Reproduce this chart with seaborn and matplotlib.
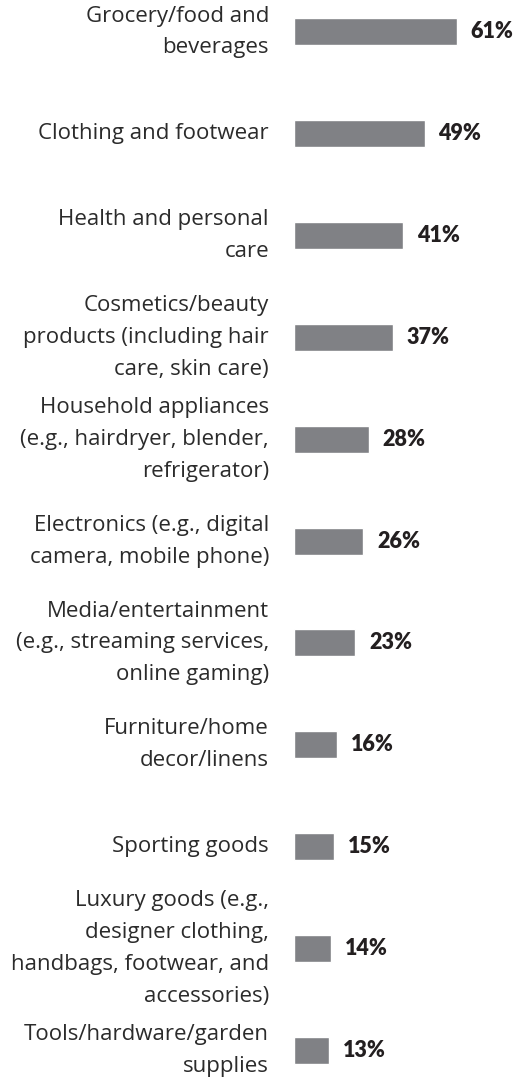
import matplotlib
matplotlib.use("Agg")
import matplotlib.pyplot as plt
import seaborn as sns
import pandas as pd

# chart data
categories = [
    "Grocery/food and\nbeverages",
    "Clothing and footwear",
    "Health and personal\ncare",
    "Cosmetics/beauty\nproducts (including hair\ncare, skin care)",
    "Household appliances\n(e.g., hairdryer, blender,\nrefrigerator)",
    "Electronics (e.g., digital\ncamera, mobile phone)",
    "Media/entertainment\n(e.g., streaming services,\nonline gaming)",
    "Furniture/home\ndecor/linens",
    "Sporting goods",
    "Luxury goods (e.g.,\ndesigner clothing,\nhandbags, footwear, and\naccessories)",
    "Tools/hardware/garden\nsupplies",
]
values = [61, 49, 41, 37, 28, 26, 23, 16, 15, 14, 13]

df = pd.DataFrame({"category": categories, "value": values})

sns.set_style("white")
plt.rcParams["font.family"] = ["Open Sans", "DejaVu Sans"]

W, H = 527, 1092
fig = plt.figure(figsize=(W / 100, H / 100), dpi=100)
left = 294 / W
ax = fig.add_axes([left, 0, 1 - left, 1])

sns.barplot(data=df, x="value", y="category", orient="h",
            color="#808185", saturation=1, width=0.265, ax=ax)

ax.set_xlim(0, 87.4)
ax.set_ylim(10.41, -0.314)

ax.bar_label(ax.containers[0], labels=[f"{v}%" for v in values],
             padding=10, fontsize=15.5, fontweight="heavy", color="#231f20",
             family=["Lato", "DejaVu Sans"])

ax.set_xlabel("")
ax.set_ylabel("")
ax.set_xticks([])
ax.tick_params(axis="y", length=0, pad=18)
for t in ax.get_yticklabels():
    t.set_fontsize(16)
    t.set_color("#2b2b2b")
    t.set_linespacing(1.68)
    t.set_verticalalignment("center")
    t.set_horizontalalignment("right")
sns.despine(ax=ax, left=True, bottom=True)

fig.savefig("out.png", dpi=100)
